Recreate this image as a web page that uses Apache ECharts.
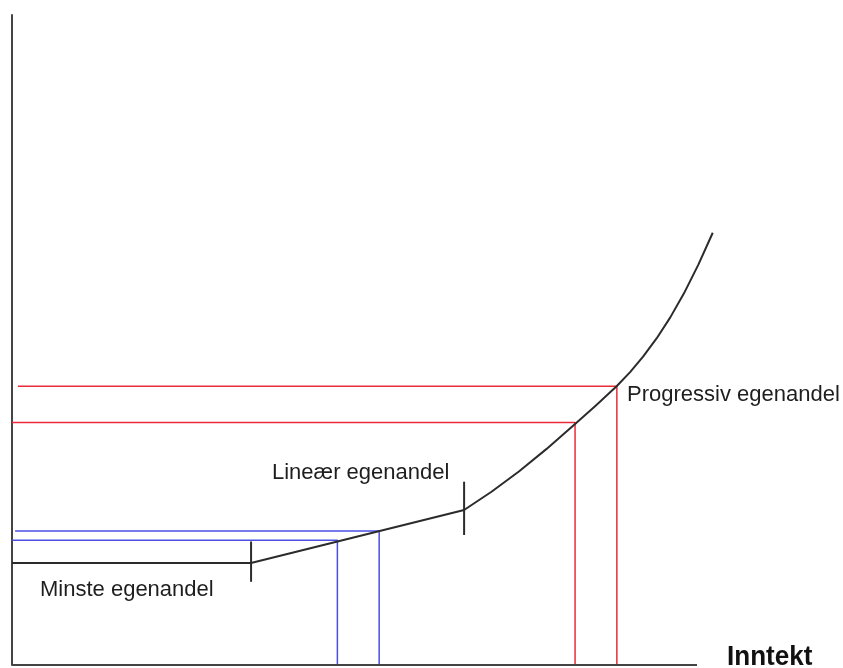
<!DOCTYPE html>
<html>
<head>
<meta charset="utf-8">
<script src="https://cdn.jsdelivr.net/npm/echarts@6/dist/echarts.min.js"></script>
<style>html,body{margin:0;padding:0;background:#fff}#c{width:843px;height:668px}</style>
</head>
<body>
<div id="c"></div>
<script>
// Data (abstract units: x = inntekt 0..100, y = egenandel 0..100)
const minsteLine = [[0, 15.7], [34.9, 15.7], [66.0, 23.85]];
const progressivCurve = [[66.0, 23.85], [70.0, 26.65], [74.0, 29.77], [78.0, 33.21], [82.2, 37.07], [85.2, 39.89], [88.3, 42.93], [90.2, 45.02], [92.1, 47.4], [94.1, 50.24], [96.1, 53.48], [98.1, 57.18], [100.2, 61.59], [102.3, 66.5]];
const xAxisLine = [[0, 0], [100, 0]];
const tickA = [[34.9, 19.0], [34.9, 12.8]];
const tickB = [[66.0, 28.2], [66.0, 20.0]];
const blueLow = [[0, 19.2], [47.5, 19.2], [47.5, 0]];
const blueHigh = [[0.45, 20.6], [53.6, 20.6], [53.6, 0]];
const redLow = [[0, 37.3], [82.2, 37.3], [82.2, 0]];
const redHigh = [[0.85, 42.9], [88.3, 42.9], [88.3, 0]];
const labels = ['Minste egenandel', 'Lineær egenandel', 'Progressiv egenandel'];
const xName = 'Inntekt';

const chart = echarts.init(document.getElementById('c'), null, {renderer: 'canvas'});
const black = '#2b2b2b';
const blue = '#4b4fe0';
const red = '#ec2b3a';
function line(data, color, width) {
  return {type: 'line', data: data, symbol: 'none', clip: false, animation: false,
    lineStyle: {color: color, width: width, join: 'round'}, z: 3};
}
const font = '22px "Liberation Sans", Arial, sans-serif';
chart.setOption({
  animation: false,
  grid: {left: 12, right: 125.45, top: 15, bottom: 3},
  xAxis: {type: 'value', min: 0, max: 103, axisLine: {show: false},
    axisTick: {show: false}, axisLabel: {show: false}, splitLine: {show: false}},
  yAxis: {type: 'value', min: 0, max: 100, axisLine: {show: true, lineStyle: {color: '#444', width: 2}},
    axisTick: {show: false}, axisLabel: {show: false}, splitLine: {show: false}},
  series: [
    line(blueLow, blue, 1.5),
    line(blueHigh, blue, 1.5),
    line(redLow, red, 1.5),
    line(redHigh, red, 1.5),
    Object.assign(line(xAxisLine, '#444', 2), {z: 4}),
    line(minsteLine, black, 2),
    line(progressivCurve, black, 2),
    line(tickA, black, 2),
    line(tickB, black, 2)
  ],
  graphic: [
    {type: 'text', left: 40, top: 579, style: {text: labels[0], font: font, fill: '#1e1e1e'}},
    {type: 'text', left: 272, top: 462, style: {text: labels[1], font: font, fill: '#1e1e1e'}},
    {type: 'text', left: 627, top: 384, style: {text: labels[2], font: font, fill: '#1e1e1e'}},
    {type: 'text', left: 727, top: 643, scaleX: 0.93, style: {text: xName, font: 'bold 28px "Liberation Sans", Arial, sans-serif', fill: '#111'}}
  ]
});
</script>
</body>
</html>
